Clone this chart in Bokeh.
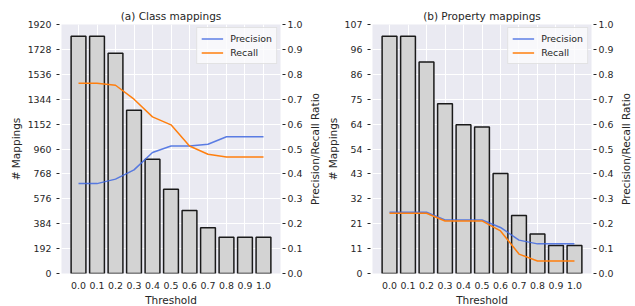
from bokeh.plotting import figure
from bokeh.layouts import row
from bokeh.models import (Range1d, LinearAxis, FixedTicker, NumeralTickFormatter,
                          CustomJSTickFormatter, Legend, LegendItem)
from bokeh.embed import file_html
from bokeh.resources import INLINE

thresholds = [0.0, 0.1, 0.2, 0.3, 0.4, 0.5, 0.6, 0.7, 0.8, 0.9, 1.0]

class_counts = [1829, 1829, 1698, 1259, 881, 650, 485, 352, 280, 280, 280]
class_precision = [0.361, 0.361, 0.379, 0.416, 0.486, 0.512, 0.512, 0.519, 0.549, 0.549, 0.549]
class_recall = [0.764, 0.764, 0.756, 0.700, 0.629, 0.597, 0.512, 0.479, 0.468, 0.468, 0.468]
class_tick_labels = ["0", "192", "384", "576", "768", "960", "1152", "1344", "1536", "1728", "1920"]

prop_counts = [102, 102, 91, 73, 64, 63, 43, 25, 17, 12, 12]
prop_precision = [0.246, 0.246, 0.246, 0.215, 0.215, 0.215, 0.185, 0.134, 0.119, 0.119, 0.119]
prop_recall = [0.242, 0.242, 0.242, 0.211, 0.211, 0.211, 0.171, 0.078, 0.050, 0.050, 0.050]
prop_tick_labels = ["0", "11", "21", "32", "43", "54", "64", "75", "86", "96", "107"]

ratio_ticks = [0.0, 0.1, 0.2, 0.3, 0.4, 0.5, 0.6, 0.7, 0.8, 0.9, 1.0]
ratio_label = "Precision/Recall Ratio"

TEXT = "#262626"
FONT = "DejaVu Sans"
BG = "#EAEAF2"
FRAME_W = 219
FRAME_H = 249
X0, X1 = -0.092, 1.092


def style_axis(ax):
    ax.axis_line_color = None
    ax.major_tick_line_color = TEXT
    ax.major_tick_in = -2
    ax.major_tick_out = 5
    ax.minor_tick_line_color = None
    ax.major_label_text_font = FONT
    ax.major_label_text_font_size = "9.4px"
    ax.major_label_text_color = TEXT
    ax.axis_label_text_font = FONT
    ax.axis_label_text_font_size = "10.5px"
    ax.axis_label_text_font_style = "normal"
    ax.axis_label_text_color = TEXT


def make_panel(title, counts, precision, recall, tick_labels, width, border_left, border_right):
    y_end = max(counts) * 1.05
    yticks = [y_end * f for f in ratio_ticks]
    p = figure(width=width, height=306, frame_width=FRAME_W, frame_height=FRAME_H,
               output_backend="svg", toolbar_location=None,
               x_range=Range1d(X0, X1), y_range=Range1d(0, y_end),
               min_border_left=border_left, min_border_right=border_right,
               min_border_top=24, min_border_bottom=33)
    p.extra_y_ranges = {"ratio": Range1d(0, 1)}
    p.background_fill_color = BG
    p.border_fill_color = "white"
    p.outline_line_color = None

    p.title.text = title
    p.title.align = "center"
    p.title.text_font = FONT
    p.title.text_font_size = "10.5px"
    p.title.text_font_style = "normal"
    p.title.text_color = TEXT
    p.title.standoff = 6

    xa = p.xaxis[0]
    xa.ticker = FixedTicker(ticks=thresholds)
    xa.formatter = NumeralTickFormatter(format="0.0")
    xa.axis_label = "Threshold"
    style_axis(xa)
    xa.major_tick_line_color = None
    xa.major_tick_in = 0
    xa.major_tick_out = 0
    xa.major_label_standoff = 8
    xa.axis_label_standoff = 2

    ya = p.yaxis[0]
    ya.ticker = FixedTicker(ticks=yticks)
    ya.formatter = CustomJSTickFormatter(args=dict(labels=tick_labels, top=y_end),
                                         code="return labels[Math.round(tick / top * 10)];")
    ya.axis_label = "# Mappings"
    style_axis(ya)
    ya.major_label_standoff = 5
    ya.axis_label_standoff = 3

    ra = LinearAxis(y_range_name="ratio", ticker=FixedTicker(ticks=ratio_ticks),
                    formatter=NumeralTickFormatter(format="0.0"))
    style_axis(ra)
    ra.major_label_standoff = 2
    p.add_layout(ra, "right")

    p.xgrid.ticker = FixedTicker(ticks=thresholds)
    p.ygrid.ticker = FixedTicker(ticks=yticks)
    p.xgrid.grid_line_color = "white"
    p.ygrid.grid_line_color = "white"
    p.xgrid.grid_line_width = 1
    p.ygrid.grid_line_width = 1

    p.vbar(x=thresholds, top=counts, width=0.08, bottom=0,
           fill_color="#D3D3D3", line_color="#1a1a1a", line_width=1.5)

    lp = p.line(thresholds, precision, y_range_name="ratio",
                line_color="#4169E1", line_width=1.5, line_alpha=0.85)
    lr = p.line(thresholds, recall, y_range_name="ratio",
                line_color="#FF7F0E", line_width=1.5)

    leg = Legend(items=[LegendItem(label="Precision", renderers=[lp]),
                        LegendItem(label="Recall", renderers=[lr])],
                 location="top_right")
    leg.margin = 3
    leg.padding = 4
    leg.spacing = 1
    leg.glyph_width = 22
    leg.glyph_height = 13
    leg.label_height = 13
    leg.label_standoff = 7
    leg.label_text_font = FONT
    leg.label_text_font_size = "9.4px"
    leg.label_text_color = TEXT
    leg.background_fill_color = "#FBFBFD"
    leg.background_fill_alpha = 0.8
    leg.border_line_color = "#CCCCCC"
    leg.border_line_width = 1
    p.add_layout(leg)
    return p


def label_strip(text, width):
    # narrow strip that carries the right-hand axis title, reading bottom to top
    s = figure(width=width, height=306, frame_width=1, frame_height=FRAME_H,
               output_backend="svg", toolbar_location=None,
               x_range=Range1d(0, 1), y_range=Range1d(0, 1),
               min_border_left=width - 1, min_border_right=0,
               min_border_top=24, min_border_bottom=33)
    s.background_fill_color = "white"
    s.border_fill_color = "white"
    s.outline_line_color = None
    s.xaxis.visible = False
    s.grid.visible = False
    ax = s.yaxis[0]
    ax.ticker = FixedTicker(ticks=[])
    ax.axis_line_color = None
    ax.major_tick_line_color = None
    ax.minor_tick_line_color = None
    ax.major_label_text_font_size = "0px"
    ax.axis_label = text
    ax.axis_label_standoff = 2
    ax.axis_label_text_font = FONT
    ax.axis_label_text_font_size = "10.5px"
    ax.axis_label_text_font_style = "normal"
    ax.axis_label_text_color = TEXT
    return s


p1 = make_panel("(a) Class mappings", class_counts, class_precision, class_recall,
                class_tick_labels, 305, 61, 25)
s1 = label_strip(ratio_label, 15)
p2 = make_panel("(b) Property mappings", prop_counts, prop_precision, prop_recall,
                prop_tick_labels, 292, 48, 25)
s2 = label_strip(ratio_label, 15)

layout = row(p1, s1, p2, s2)
open("out.html", "w").write(file_html(layout, INLINE))
